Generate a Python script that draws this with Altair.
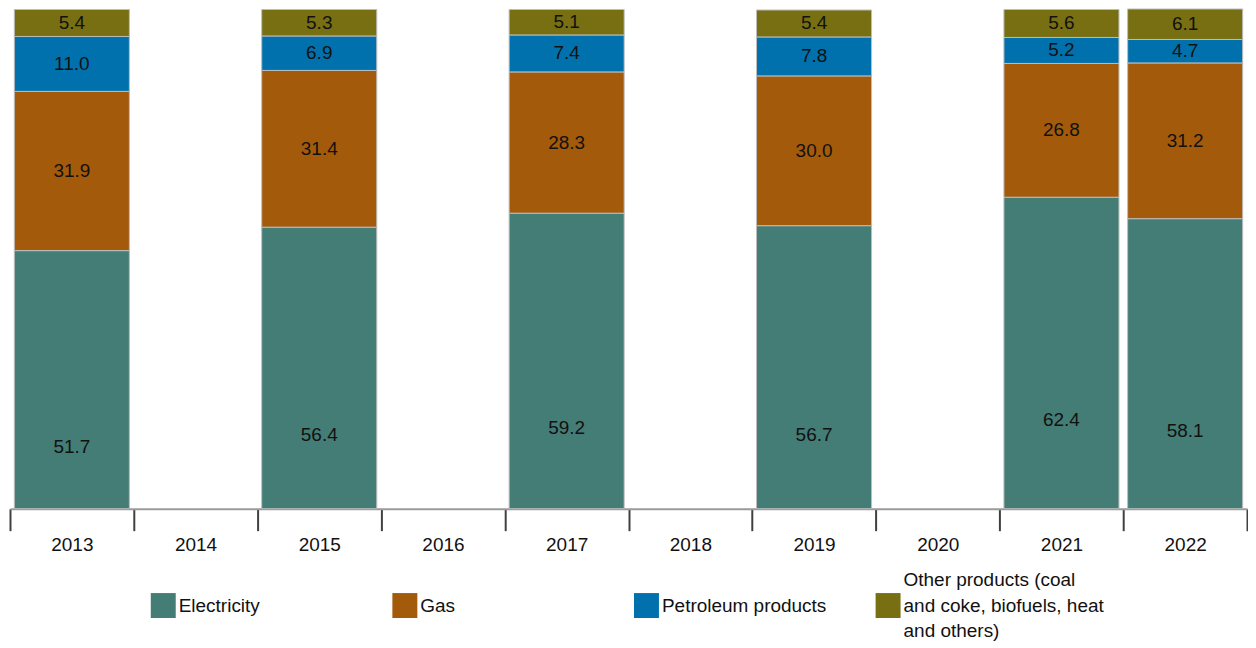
import altair as alt
import pandas as pd

years = ["2013", "2014", "2015", "2016", "2017", "2018", "2019", "2020", "2021", "2022"]
bar_years = ["2013", "2015", "2017", "2019", "2021", "2022"]
categories = ["Electricity", "Gas", "Petroleum products",
              "Other products (coal and coke, biofuels, heat and others)"]
legend_labels = ["Electricity", "Gas", "Petroleum products",
                 "Other products (coal\nand coke, biofuels, heat\nand others)"]
legend_lines = [1, 1, 1, 3]
electricity = [51.7, 56.4, 59.2, 56.7, 62.4, 58.1]
gas = [31.9, 31.4, 28.3, 30.0, 26.8, 31.2]
petroleum = [11.0, 6.9, 7.4, 7.8, 5.2, 4.7]
other = [5.4, 5.3, 5.1, 5.4, 5.6, 6.1]
colors = ["#447d75", "#a45a0b", "#0071ad", "#776f11"]
# the source chart's bottom segment extends below the visible axis; its labels sit
# at the centre of that full (partly hidden) segment
hidden_base = -27

rows = []
for i, y in enumerate(bar_years):
    for k, (cat, series) in enumerate(zip(categories, [electricity, gas, petroleum, other])):
        rows.append({"year": y, "category": cat, "value": series[i], "order": k})
df = pd.DataFrame(rows)
leg = pd.DataFrame({"category": categories, "label": legend_labels,
                    "lines": legend_lines, "idx": list(range(4))})

font = "Liberation Sans"
W = 1239
LH = 26
color_scale = alt.Scale(domain=categories, range=colors)

x = alt.X("year:N", scale=alt.Scale(domain=years, paddingInner=0, paddingOuter=0),
          axis=alt.Axis(title=None, labelAngle=0, tickBand="extent", tickSize=22,
                        tickColor="#404040", tickWidth=2, domainColor="#9a9a9a",
                        domainWidth=2, labelFontSize=19, labelFont=font,
                        labelColor="#111", labelPadding=5))
y = alt.Y("value:Q", stack="zero", scale=alt.Scale(domain=[0, 100], nice=False), axis=None)

bars = alt.Chart(df).mark_bar(stroke="#bdbdbd", strokeWidth=1,
                              width=alt.RelativeBandSize(0.93)).encode(
    x=x, y=y,
    color=alt.Color("category:N", scale=color_scale, legend=None),
    order=alt.Order("order:Q", sort="ascending"),
)

text = alt.Chart(df).mark_text(fontSize=19, font=font, color="#111").encode(
    x=alt.X("year:N", scale=alt.Scale(domain=years)),
    y=alt.Y("mid:Q"),
    text=alt.Text("value:Q", format=".1f"),
).transform_stack(
    stack="value", groupby=["year"], as_=["y0", "y1"], sort=[alt.SortField("order", "ascending")]
).transform_calculate(
    mid="((datum.order == 0 ? %d : datum.y0) + datum.y1) / 2" % hidden_base
)

main = alt.layer(bars, text).properties(width=W, height=500)

lx = alt.X("idx:Q", scale=alt.Scale(domain=[0, 3], range=[153.5, 879.5]), axis=None)
leg_sym = alt.Chart(leg).mark_square(size=625, opacity=1).encode(
    x=lx, color=alt.Color("category:N", scale=color_scale, legend=None))
txt_style = dict(align="left", baseline="middle", dx=15.5, fontSize=19,
                 font=font, color="#111", lineBreak="\n", lineHeight=LH)
leg_txt1 = alt.Chart(leg).transform_filter("datum.lines == 1").mark_text(**txt_style).encode(
    x=lx, text="label:N")
leg_txt3 = alt.Chart(leg).transform_filter("datum.lines == 3").mark_text(dy=-LH, **txt_style).encode(
    x=lx, text="label:N")
legend = alt.layer(leg_sym, leg_txt1, leg_txt3).properties(width=W, height=56)

chart = alt.vconcat(main, legend, spacing=16).resolve_scale(x="independent").properties(
    padding={"left": 1, "top": 0, "right": 0, "bottom": 0},
).configure_view(stroke=None)

chart.save("out.html", embed_options={"renderer": "svg", "actions": False})
